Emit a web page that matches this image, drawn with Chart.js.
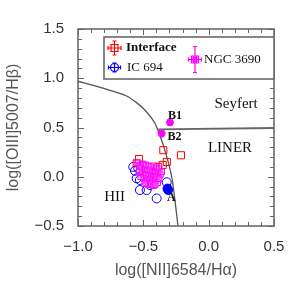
<!DOCTYPE html>
<html>
<head>
<meta charset="utf-8">
<script src="https://cdn.jsdelivr.net/npm/chart.js@4.4.1/dist/chart.umd.min.js"></script>
<style>
html,body{margin:0;padding:0;background:#fff;}
#wrap{width:294px;height:294px;}
</style>
</head>
<body>
<div id="wrap"><canvas id="c" width="294" height="294"></canvas></div>
<script>
// ---- data ----
const xTicks = [-1.0, -0.5, 0.0, 0.5];
const yTicks = [-0.5, 0.0, 0.5, 1.0, 1.5];

const boundaryX = [-1.0, -0.85, -0.7, -0.62, -0.55, -0.49, -0.44, -0.41, -0.385, -0.36, -0.32, -0.283, -0.258, -0.235];
const boundaryY = [0.97, 0.915, 0.855, 0.815, 0.75, 0.68, 0.60, 0.54, 0.46, 0.37, 0.20, 0.0, -0.24, -0.5];

const seyfertX = [-0.385, 0.5];
const seyfertY = [0.48, 0.495];

const interfaceX = [-0.533, -0.551, -0.347, -0.212, -0.32, -0.352, -0.386, -0.398, -0.424, -0.449, -0.526, -0.41, -0.46];
const interfaceY = [0.18, 0.137, 0.27, 0.218, 0.15, 0.12, 0.10, 0.051, 0.0, -0.033, 0.068, 0.08, 0.02];

const ic694X = [-0.577, -0.564, -0.539, -0.551, -0.526, -0.526, -0.475, -0.398, -0.449, -0.321, -0.475, -0.51];
const ic694Y = [0.10, 0.06, 0.086, -0.016, -0.033, -0.135, -0.135, -0.22, -0.084, -0.056, 0.035, 0.11];

const ic694FilledX = [-0.31, -0.315];
const ic694FilledY = [-0.135, -0.12];

const ngcX = [-0.52, -0.50, -0.48, -0.46, -0.44, -0.42, -0.40, -0.38, -0.51, -0.49, -0.47, -0.45, -0.43, -0.41, -0.39, -0.50, -0.48, -0.46, -0.44, -0.42, -0.40, -0.49, -0.47, -0.45, -0.43, -0.41, -0.46, -0.44, -0.48, -0.53, -0.55, -0.42, -0.49, -0.39, -0.41, -0.37, -0.36, -0.38, -0.52, -0.53];
const ngcY = [0.12, 0.13, 0.12, 0.11, 0.10, 0.11, 0.09, 0.08, 0.08, 0.07, 0.06, 0.07, 0.05, 0.04, 0.03, 0.03, 0.02, 0.01, 0.00, -0.01, 0.0, -0.02, -0.04, -0.03, -0.05, -0.04, -0.08, -0.07, -0.06, 0.10, 0.14, -0.09, -0.07, -0.06, -0.08, 0.02, 0.05, -0.02, 0.0, 0.05];

const starX = [-0.296, -0.36];
const starY = [0.553, 0.44];

const regionLabels = ["Seyfert", "LINER", "HII"];
const regionLabelX = [0.21, 0.163, -0.72];
const regionLabelY = [0.74, 0.29, -0.21];

const pointLabels = ["B1", "B2", "A"];
const pointLabelX = [-0.258, -0.262, -0.285];
const pointLabelY = [0.62, 0.40, -0.21];

const legendNames = ["Interface", "IC 694", "NGC 3690"];

// ---- helpers ----
function pts(xs, ys){ return xs.map((x,i)=>({x:x, y:ys[i]})); }
const fmt = v => { const s = Number(v).toFixed(1); return s.replace('-', '\u2212'); };

const frame = {
  id: 'frame',
  afterDatasetsDraw(chart){
    const ctx = chart.ctx, a = chart.chartArea;
    const xs = chart.scales.x, ys = chart.scales.y;
    ctx.save();
    ctx.strokeStyle = '#666'; ctx.lineWidth = 1;
    for (let i = -10; i <= 5; i++) {
      const v = i/10; const px = Math.round(xs.getPixelForValue(v)) + 0.5;
      const L = (i % 5 === 0) ? 6 : 4;
      ctx.beginPath();
      ctx.moveTo(px, a.bottom); ctx.lineTo(px, a.bottom - L);
      ctx.moveTo(px, a.top); ctx.lineTo(px, a.top + L);
      ctx.stroke();
    }
    for (let i = -5; i <= 15; i++) {
      const v = i/10; const py = Math.round(ys.getPixelForValue(v)) + 0.5;
      const L = (i % 5 === 0) ? 6 : 4;
      ctx.beginPath();
      ctx.moveTo(a.left, py); ctx.lineTo(a.left + L, py);
      ctx.moveTo(a.right, py); ctx.lineTo(a.right - L, py);
      ctx.stroke();
    }
    ctx.strokeStyle = '#6a6a6a'; ctx.lineWidth = 1.6;
    ctx.strokeRect(a.left, a.top, a.right - a.left, a.bottom - a.top);

    ctx.fillStyle = '#111';
    ctx.textAlign = 'center'; ctx.textBaseline = 'middle';
    ctx.font = '15px "Liberation Serif", "DejaVu Serif", serif';
    regionLabels.forEach((t,i)=>{
      ctx.fillText(t, xs.getPixelForValue(regionLabelX[i]), ys.getPixelForValue(regionLabelY[i]));
    });
    ctx.font = 'bold 12px "Liberation Serif", "DejaVu Serif", serif';
    pointLabels.forEach((t,i)=>{
      ctx.fillText(t, xs.getPixelForValue(pointLabelX[i]), ys.getPixelForValue(pointLabelY[i]));
    });

    const bx = 104, by = 37, bw = a.right - 104, bh = 42;
    ctx.fillStyle = '#fff';
    ctx.fillRect(bx, by, bw, bh);
    ctx.strokeStyle = '#6a6a6a'; ctx.lineWidth = 1.6;
    ctx.strokeRect(bx, by, bw, bh);

    function errIcon(cx, cy, hw, vh, color, marker){
      ctx.strokeStyle = color; ctx.lineWidth = 1.2;
      ctx.beginPath();
      ctx.moveTo(cx - hw, cy); ctx.lineTo(cx + hw, cy);
      ctx.moveTo(cx - hw, cy - 2); ctx.lineTo(cx - hw, cy + 2);
      ctx.moveTo(cx + hw, cy - 2); ctx.lineTo(cx + hw, cy + 2);
      ctx.moveTo(cx, cy - vh); ctx.lineTo(cx, cy + vh);
      ctx.moveTo(cx - 2, cy - vh); ctx.lineTo(cx + 2, cy - vh);
      ctx.moveTo(cx - 2, cy + vh); ctx.lineTo(cx + 2, cy + vh);
      ctx.stroke();
      ctx.beginPath();
      if (marker === 'circle') { ctx.arc(cx, cy, 4, 0, Math.PI*2); }
      else { ctx.rect(cx - 3.5, cy - 3.5, 7, 7); }
      ctx.stroke();
      if (marker === 'hatch') {
        ctx.beginPath();
        ctx.moveTo(cx - 3.5, cy - 1.5); ctx.lineTo(cx + 3.5, cy - 1.5);
        ctx.moveTo(cx - 3.5, cy + 1.5); ctx.lineTo(cx + 3.5, cy + 1.5);
        ctx.moveTo(cx - 1.5, cy - 3.5); ctx.lineTo(cx - 1.5, cy + 3.5);
        ctx.moveTo(cx + 1.5, cy - 3.5); ctx.lineTo(cx + 1.5, cy + 3.5);
        ctx.stroke();
      }
    }
    errIcon(114.5, 48, 6.5, 7, '#f00', 'square');
    errIcon(114.5, 67.5, 6, 4.5, '#00f', 'circle');
    errIcon(195, 59.5, 6.5, 13, '#f0f', 'hatch');

    ctx.fillStyle = '#111'; ctx.textAlign = 'left'; ctx.textBaseline = 'middle';
    ctx.font = 'bold 13px "Liberation Serif", "DejaVu Serif", serif';
    ctx.fillText(legendNames[0], 126, 48);
    ctx.font = '13px "Liberation Serif", "DejaVu Serif", serif';
    ctx.fillText(legendNames[1], 127, 67.5);
    ctx.fillText(legendNames[2], 204, 59.5);
    ctx.restore();
  }
};

new Chart(document.getElementById('c'), {
  type: 'scatter',
  data: {
    datasets: [
      { label: 'B stars', data: pts(starX, starY), pointStyle: 'star', pointRadius: 4,
        borderColor: '#f0f', backgroundColor: '#f0f', borderWidth: 2.2, order: 0 },
      { label: legendNames[2], data: pts(ngcX, ngcY), pointStyle: 'rect', pointRadius: 4,
        borderColor: '#f0f', backgroundColor: 'rgba(255,120,255,0.35)', borderWidth: 1, order: 1 },
      { label: legendNames[0], data: pts(interfaceX, interfaceY), pointStyle: 'rect', pointRadius: 5,
        borderColor: '#f00', backgroundColor: 'rgba(0,0,0,0)', borderWidth: 1, order: 2 },
      { label: 'A', data: pts(ic694FilledX, ic694FilledY), pointStyle: 'circle', pointRadius: 4.5,
        borderColor: '#00f', backgroundColor: '#00f', borderWidth: 1, order: 3 },
      { label: legendNames[1], data: pts(ic694X, ic694Y), pointStyle: 'circle', pointRadius: 4.5,
        borderColor: '#00f', backgroundColor: 'rgba(0,0,0,0)', borderWidth: 1, order: 4 },
      { label: 'boundary', data: pts(boundaryX, boundaryY), showLine: true, pointRadius: 0,
        borderColor: '#555', borderWidth: 1.3, tension: 0.3, order: 5 },
      { label: 'seyfert', data: pts(seyfertX, seyfertY), showLine: true, pointRadius: 0,
        borderColor: '#666', borderWidth: 1.8, order: 6 }
    ]
  },
  options: {
    responsive: false, animation: false, devicePixelRatio: 1,
    layout: { padding: { top: 29, right: 20, left: 0, bottom: 0 } },
    plugins: { legend: { display: false }, tooltip: { enabled: false } },
    scales: {
      x: {
        type: 'linear', min: -1, max: 0.5,
        afterFit(s){ s.height = 68; },
        afterBuildTicks(s){ s.ticks = xTicks.map(v=>({value:v})); },
        grid: { display: false }, border: { display: false },
        ticks: { callback: v => fmt(v), font: { family: '"Liberation Sans", Arial, sans-serif', size: 15 }, color: '#333', padding: 4, maxRotation: 0 },
        title: { display: true, text: 'log([NII]6584/H\u03b1)', font: { family: '"Liberation Sans", Arial, sans-serif', size: 16 }, color: '#555', padding: { bottom: 14 } }
      },
      y: {
        type: 'linear', min: -0.5, max: 1.5,
        afterFit(s){ s.width = 78; },
        afterBuildTicks(s){ s.ticks = yTicks.map(v=>({value:v})); },
        grid: { display: false }, border: { display: false },
        ticks: { callback: v => fmt(v), font: { family: '"Liberation Sans", Arial, sans-serif', size: 15 }, color: '#333', padding: 6 },
        title: { display: true, text: 'log([OIII]5007/H\u03b2)', font: { family: '"Liberation Sans", Arial, sans-serif', size: 16 }, color: '#555', padding: { top: 4 } }
      }
    }
  },
  plugins: [frame]
});
</script>
</body>
</html>
